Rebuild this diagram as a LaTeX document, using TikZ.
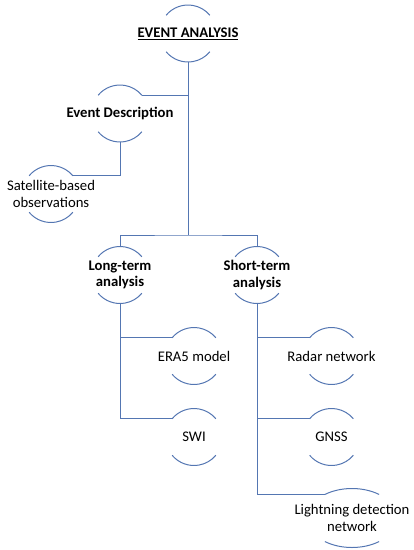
\documentclass[tikz,border=0pt]{standalone}
\usepackage{fontspec}
\setmainfont{Carlito}
\definecolor{lineblue}{RGB}{84,118,178}

\begin{document}
\begin{tikzpicture}[x=1pt, y=-1pt, line width=1pt,
    every node/.style={align=center, inner sep=0pt, font=\fontsize{14.7}{16.5}\selectfont},
    arcline/.style={lineblue},
    link/.style={lineblue}]
  \useasboundingbox (0,0) rectangle (414,550);

  % ================= labels =================
  \node (ea) at (188,33.5) {\textbf{\underline{EVENT ANALYSIS}}};
  \node (ed) at (120,113.5) {\textbf{Event Description}};
  \node (sat) at (51,194) {Satellite-based\\observations};
  \node (lt) at (120,275) {\textbf{Long-term}\\\textbf{analysis}};
  \node (st) at (257,275) {\textbf{Short-term}\\\textbf{analysis}};
  \node (era) at (194,356) {ERA5 model};
  \node (swi) at (194,437) {SWI};
  \node (radar) at (331.5,356) {Radar network};
  \node (gnss) at (331.5,437) {GNSS};
  \node (light) at (352,518) {Lightning detection\\network};

  % arcs above and below every label: name / x radius / y radius / angle
  \foreach \n/\rx/\ry/\a in {ea/28.5/28.5/40, ed/28.5/28.5/40, sat/28.5/28.5/40,
      lt/28.5/28.5/40, st/28.5/28.5/40, era/28.5/28.5/40, swi/28.5/28.5/40,
      radar/28.5/28.5/40, gnss/28.5/28.5/40, light/45/29.5/53}{
    \draw[arcline] ([shift={(180-\a:\rx pt and \ry pt)}]\n.center) coordinate (\n-tl)
      arc[start angle=180-\a, end angle=\a, x radius=\rx pt, y radius=\ry pt] coordinate (\n-tr);
    \draw[arcline] ([shift={(180+\a:\rx pt and \ry pt)}]\n.center)
      arc[start angle=180+\a, end angle=360-\a, x radius=\rx pt, y radius=\ry pt];
    \coordinate (\n-t) at ([shift={(90:\rx pt and \ry pt)}]\n.center);
    \coordinate (\n-b) at ([shift={(270:\rx pt and \ry pt)}]\n.center);
  }

  % ================= connectors =================
  \coordinate (split) at (188,235);
  \draw[link] (ea-b) -- (split);
  \draw[link] (lt-t) |- (split) -| (st-t);
  \draw[link] (ed-tr) -- (ed-tr -| ea-b);
  \draw[link] (ed-b) |- (sat-tr);

  % long-term branch
  \draw[link] (lt-b) |- (era-tl);
  \draw[link] (lt-b) |- (swi-tl);

  % short-term branch
  \draw[link] (st-b) |- (radar-tl);
  \draw[link] (st-b) |- (gnss-tl);
  \draw[link] (st-b) |- (light-tl);
\end{tikzpicture}
\end{document}
